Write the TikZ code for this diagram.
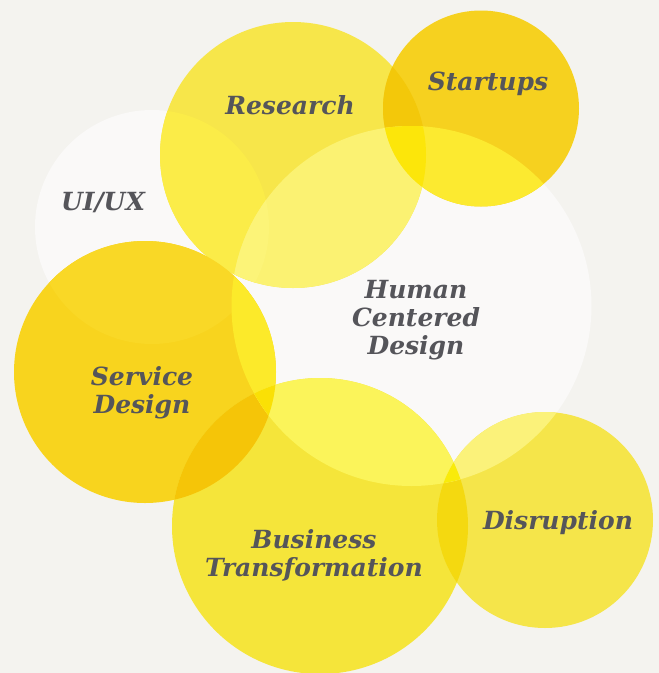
\documentclass[tikz,border=0pt]{standalone}
\usepackage{fontspec}
\setmainfont{DejaVu Serif}
\definecolor{bgc}{HTML}{F4F3EF}
\definecolor{wc}{HTML}{FAF9F8}
\definecolor{txt}{HTML}{55555A}
\definecolor{cRE}{HTML}{F7E64A}
\definecolor{cST}{HTML}{F6D11F}
\definecolor{cSD}{HTML}{F8D41E}
\definecolor{cBT}{HTML}{F5E53A}
\definecolor{cDI}{HTML}{F5E54A}
\definecolor{cREST}{HTML}{F3C80A}
\definecolor{cRESD}{HTML}{F6C80C}
\definecolor{cSDBT}{HTML}{F5C508}
\definecolor{cBTDI}{HTML}{F4D910}
\definecolor{cUXRE}{HTML}{FBEC48}
\definecolor{cUXSD}{HTML}{F9D826}
\definecolor{cHCRE}{HTML}{FBF272}
\definecolor{cHCUXRE}{HTML}{FCF478}
\definecolor{cHCST}{HTML}{FCEA30}
\definecolor{cHCREST}{HTML}{FCE60A}
\definecolor{cHCSD}{HTML}{FCEA2A}
\definecolor{cHCBT}{HTML}{FBF45A}
\definecolor{cHCDI}{HTML}{FBF27A}
\definecolor{cHCSDBT}{HTML}{FAE005}
\definecolor{cHCBTDI}{HTML}{F9EB0A}
\def\UX{(152,227) circle[radius=117pt]}
\def\RE{(293,155) circle[radius=133pt]}
\def\ST{(481,108.5) circle[radius=98pt]}
\def\HC{(411.5,306) circle[radius=180pt]}
\def\SD{(145,372) circle[radius=131pt]}
\def\BT{(320,526) circle[radius=148pt]}
\def\DI{(545,520) circle[radius=108pt]}
\tikzset{lbl/.style={text=txt,font=\fontsize{25}{28}\selectfont\bfseries\itshape,align=center,inner sep=0pt}}
\begin{document}
\begin{tikzpicture}[x=1pt,y=-1pt]
\fill[bgc] (0,0) rectangle (659,673);
\clip (0,0) rectangle (659,673);
% base circles
\fill[wc] \UX;
\fill[wc] \HC;
\fill[cRE] \RE;
\fill[cST] \ST;
\fill[cSD] \SD;
\fill[cBT] \BT;
\fill[cDI] \DI;
% pairwise yellow overlaps
\begin{scope}\clip \RE; \fill[cREST] \ST; \fill[cRESD] \SD; \end{scope}
\begin{scope}\clip \SD; \fill[cSDBT] \BT; \end{scope}
\begin{scope}\clip \BT; \fill[cBTDI] \DI; \end{scope}
% UI/UX overlaps
\begin{scope}\clip \UX; \fill[cUXRE] \RE; \fill[cUXSD] \SD; \end{scope}
% HCD overlaps
\begin{scope}\clip \HC;
  \fill[cHCRE] \RE;
  \begin{scope}\clip \UX; \fill[cHCUXRE] \RE; \end{scope}
  \fill[cHCST] \ST;
  \begin{scope}\clip \RE; \fill[cHCREST] \ST; \end{scope}
  \fill[cHCSD] \SD;
  \fill[cHCBT] \BT;
  \fill[cHCDI] \DI;
  \begin{scope}\clip \SD; \fill[cHCSDBT] \BT; \end{scope}
  \begin{scope}\clip \BT; \fill[cHCBTDI] \DI; \end{scope}
\end{scope}
% labels
\node[lbl] (re) at (290,105) {Research};
\node[lbl] (st) at (488,84) {Startups};
\node[lbl] (ux) at (103,203) {UI/UX};
\node[lbl] (hc) at (416,320) {Human\\Centered\\Design};
\node[lbl] (sd) at (142,393) {Service\\Design};
\node[lbl] (bt) at (314,555) {Business\\Transformation};
\node[lbl] (di) at (558,523) {Disruption};
\end{tikzpicture}
\end{document}
